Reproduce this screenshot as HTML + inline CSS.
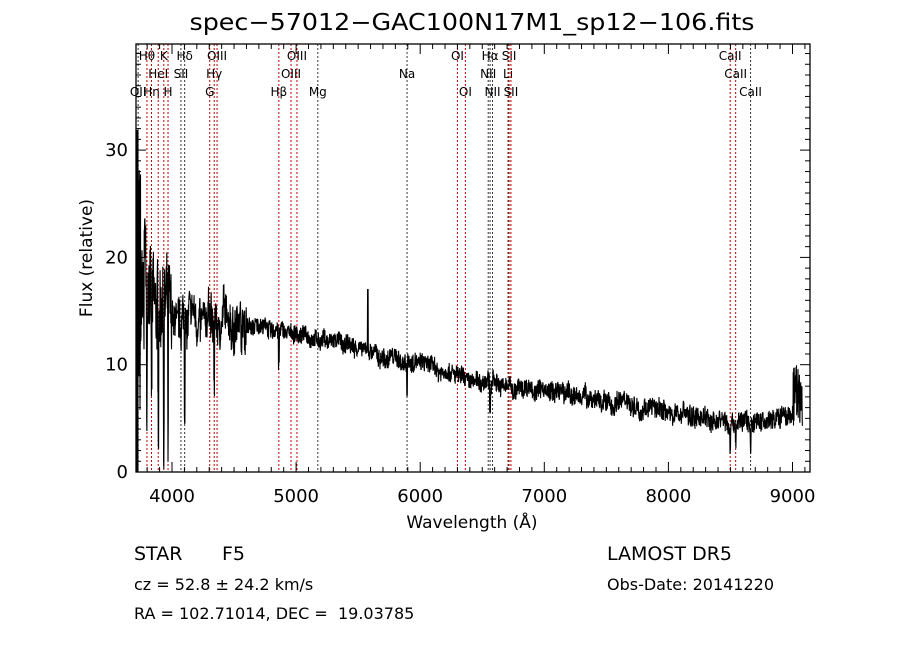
<!DOCTYPE html>
<html><head><meta charset="utf-8"><style>
html,body{margin:0;padding:0;background:#fff;}
svg{display:block;font-family:"DejaVu Sans","Liberation Sans",sans-serif;}
</style></head><body>
<svg id="s" width="900" height="649" viewBox="0 0 900 649" xmlns="http://www.w3.org/2000/svg">
<rect width="900" height="649" fill="#fff"/>
<text x="472" y="30" font-size="23" text-anchor="middle" textLength="565" lengthAdjust="spacingAndGlyphs">spec−57012−GAC100N17M1_sp12−106.fits</text>
<g id="g"></g>
<text transform="translate(92,258) rotate(-90)" font-size="17" text-anchor="middle">Flux (relative)</text>
<text x="472" y="528" font-size="17" text-anchor="middle">Wavelength (Å)</text>
<text x="134" y="560" font-size="19">STAR</text>
<text x="222" y="560" font-size="19">F5</text>
<text x="134" y="590" font-size="16">cz = 52.8 ± 24.2 km/s</text>
<text x="134" y="619" font-size="16" xml:space="preserve">RA = 102.71014, DEC =  19.03785</text>
<text x="607" y="560" font-size="19">LAMOST DR5</text>
<text x="607" y="590" font-size="16">Obs-Date: 20141220</text>
</svg>
<script>
var NS="http://www.w3.org/2000/svg",g=document.getElementById("g");
function X(l){return 172+(l-4000)*0.1241;}
function Y(f){return 472-10.73*f;}
function el(t,a,txt){var e=document.createElementNS(NS,t);for(var k in a)e.setAttribute(k,a[k]);if(txt!==undefined)e.textContent=String(txt);g.appendChild(e);return e;}
var L=136,R=810,T=44,B=472;
var lines=[[3727,"OII",3],[3798,"Hθ",1],[3835,"Hη",3],[3889,"HeI",2],[3934,"K",1],[3968,"H",3],[4072,"SII",2],[4102,"Hδ",1],[4304,"G",3],[4340,"Hγ",2],[4363,"OIII",1],[4861,"Hβ",3],[4959,"OIII",2],[5007,"OIII",1],[5175,"Mg",3],[5894,"Na",2],[6300,"OI",1],[6364,"OI",3],[6548,"NII",2],[6563,"Hα",1],[6583,"NII",3],[6708,"Li",2],[6716,"SII",1],[6731,"SII",3],[8498,"CaII",1],[8542,"CaII",2],[8662,"CaII",3]];
var red={3798:1,3835:1,3889:1,3934:1,3968:1,4304:1,4340:1,4363:1,4861:1,4959:1,5007:1,6300:1,6364:1,6716:1,6731:1,8498:1,8542:1};
lines.forEach(function(a){var x=X(a[0]);
el("line",{x1:x,x2:x,y1:T,y2:B,stroke:red[a[0]]?"#c00000":"#333","stroke-width":1,"stroke-dasharray":"2,2"});
var yy=[0,60,78,96][a[2]];el("text",{x:x,y:yy,"font-size":12,"text-anchor":"middle"},a[1]);});
var seed=7;function rnd(){seed=(seed*16807)%2147483647;return seed/2147483647;}
function cont(l){var p=[[3710,15],[3800,16],[4000,15],[4500,14],[5000,12.8],[5500,11.5],[6000,10],[6500,8.5],[7000,7.6],[7500,6.6],[8000,5.5],[8500,4.6],[9000,5],[9141,5]];
for(var i=0;i<p.length-1;i++)if(l<=p[i+1][0]){var t=(l-p[i][0])/(p[i+1][0]-p[i][0]);return p[i][1]+t*(p[i+1][1]-p[i][1]);}return 5;}
var d="",w=0;
for(var l=3712;l<=9080;l+=2){var f=cont(l);var amp=l<4000?4:l<4600?1.8:l<7000?0.8:0.9;
w=w*0.9+(rnd()-0.5)*0.6;
f+=(rnd()-0.5)*2*amp+w*(l<4600?2.5:0.6);
if(l<3760)f=(rnd()*30);
[[3798,8],[3835,8],[3889,10],[3934,12],[3968,14],[4102,8],[4340,6],[4861,3],[5894,3],[6563,2],[8498,2],[8542,2],[8662,2]].forEach(function(q){if(Math.abs(l-q[0])<4)f-=q[1];});
if(Math.abs(l-5578)<3)f=17;
if(l>3775&&l<3790)f=20+rnd()*4;
if(l>9000)f=4+rnd()*6;
if(f<0)f=0.3;
d+=(d?"L":"M")+X(l).toFixed(1)+","+Y(f).toFixed(1);}
el("path",{d:d,fill:"none",stroke:"#000","stroke-width":1.1});
el("line",{x1:L+1,x2:L+1,y1:130,y2:B,stroke:"#000","stroke-width":3});
el("rect",{x:L,y:T,width:R-L,height:B-T,fill:"none",stroke:"#000","stroke-width":1.3});
for(var wl=3800;wl<=9100;wl+=100){var x=X(wl),M=wl%1000==0,h=M?10:5;
el("line",{x1:x,x2:x,y1:B,y2:B-h,stroke:"#000"});el("line",{x1:x,x2:x,y1:T,y2:T+h,stroke:"#000"});
if(M)el("text",{x:x,y:B+30,"font-size":18,"text-anchor":"middle"},wl);}
for(var v=0;v<=39;v++){var y=Y(v),M=v%10==0,h=M?10:5;
el("line",{x1:L,x2:L+h,y1:y,y2:y,stroke:"#000"});el("line",{x1:R,x2:R-h,y1:y,y2:y,stroke:"#000"});
if(M)el("text",{x:L-8,y:y+6,"font-size":18,"text-anchor":"end"},v);}
</script>
</body></html>
